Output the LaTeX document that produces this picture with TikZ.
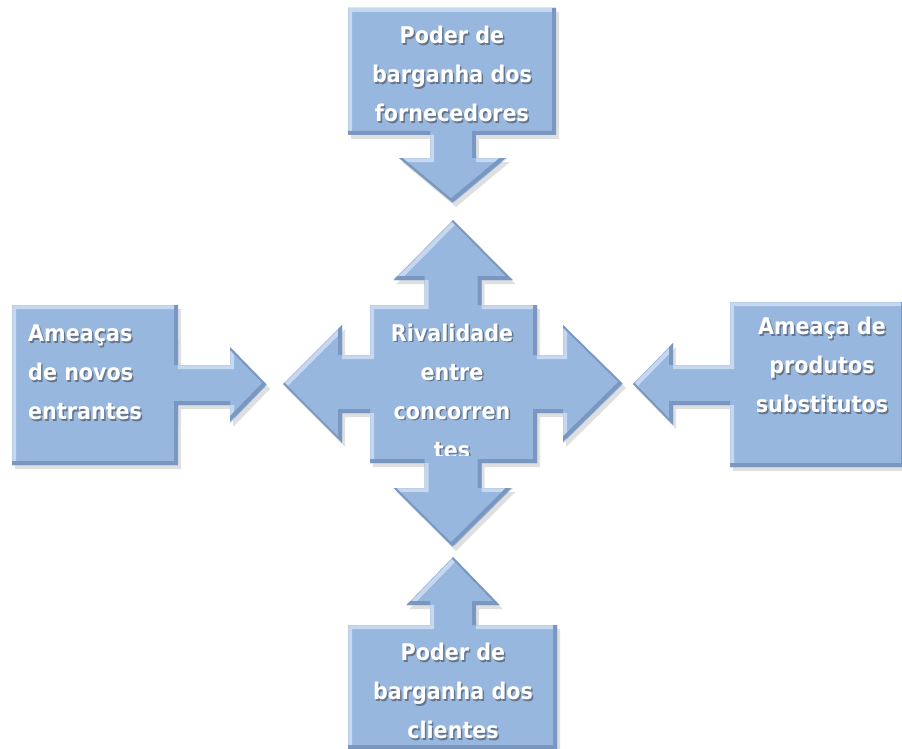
\documentclass[tikz,border=0pt]{standalone}
\usepackage{fontspec}
\usetikzlibrary{shadows}
\newfontfamily\rotfonte{DejaVu Sans}[FakeStretch=0.9]
\newcommand{\fonterotulo}{\rotfonte\bfseries\fontsize{23pt}{39pt}\selectfont}
\definecolor{corpo}{RGB}{152,183,222}
\definecolor{realce}{RGB}{198,216,239}
\definecolor{escuro}{RGB}{122,151,193}
\definecolor{cinza}{RGB}{80,90,105}
% bloco com bisel: claro em cima/esquerda, escuro embaixo/direita
\newcommand{\bloco}[1]{%
  \fill[corpo, drop shadow={shadow xshift=3pt, shadow yshift=-4pt, opacity=.25}] #1;
  \begin{scope}
    \clip #1;
    \draw[realce, line width=4pt, shift={(2,2)}] #1;
    \draw[escuro, line width=4pt, shift={(-2,-2)}] #1;
  \end{scope}}
\begin{document}
\begin{tikzpicture}[
      x=1pt, y=-1pt,
      rotulo/.style={
        text=white,
        font=\fonterotulo,
        align=center,
        inner sep=0pt,
        execute at begin node=\strut,
        execute at end node=\strut
      },
      sombra/.style={
        rotulo,
        text=cinza,
        text opacity=.7,
        xshift=1.5pt,
        yshift=-1.5pt
      }
    ]
    \useasboundingbox[fill=white] (0,0) rectangle (902,749);
    % fornecedores (em cima)
    \bloco{(348,8) -- (556,8) -- (556,135) -- (476,135) -- (476,158) -- (507,158) -- (453,203) -- (399,158) -- (430,158) -- (430,135) -- (348,135) -- cycle}
    % novos entrantes (esquerda)
    \bloco{(12,305) -- (178,305) -- (178,365) -- (230,365) -- (230,347) -- (267,385) -- (230,423) -- (230,405) -- (178,405) -- (178,465) -- (12,465) -- cycle}
    % produtos substitutos (direita)
    \bloco{(730,302) -- (905,302) -- (905,467) -- (730,467) -- (730,405) -- (673,405) -- (673,425) -- (633,384) -- (673,343) -- (673,365) -- (730,365) -- cycle}
    % clientes (embaixo)
    \bloco{(453,557) -- (499.5,605) -- (476,605) -- (476,625) -- (557,625) -- (557,749) -- (348,749) -- (348,625) -- (430,625) -- (430,605) -- (406.5,605) -- cycle}
    % rivalidade (centro)
    \bloco{(370,305) -- (424.5,305) -- (424.5,280) -- (393.5,280) -- (453,220) -- (512.5,280) -- (481.5,280) -- (481.5,305) -- (537,305) -- (537,355) -- (563,355) -- (563,325) -- (623,384) -- (563,443) -- (563,413) -- (537,413) -- (537,463) -- (481.5,463) -- (481.5,488) -- (512.5,488) -- (453,547) -- (393.5,488) -- (424.5,488) -- (424.5,463) -- (370,463) -- (370,413) -- (342,413) -- (342,443) -- (283,384) -- (342,325) -- (342,355) -- (370,355) -- cycle}
    \foreach \e in {sombra,rotulo} {
      \node[\e] (fornecedores-\e) at (452,80) {Poder de\\barganha dos\\fornecedores};
      \node[\e, anchor=west, align=left] (entrantes-\e) at (28,378) {Ameaças\\de novos\\entrantes};
      \node[\e] (substitutos-\e) at (822,371) {Ameaça de\\produtos\\substitutos};
      \node[\e] (clientes-\e) at (453,697) {Poder de\\barganha dos\\clientes};
    }
    \begin{scope}
      \clip (360,300) rectangle (545,455);
      \foreach \e in {sombra,rotulo}
        \node[\e] (rivalidade-\e) at (452,397) {Rivalidade\\entre\\concorren\\tes};
    \end{scope}
  \end{tikzpicture}
\end{document}
